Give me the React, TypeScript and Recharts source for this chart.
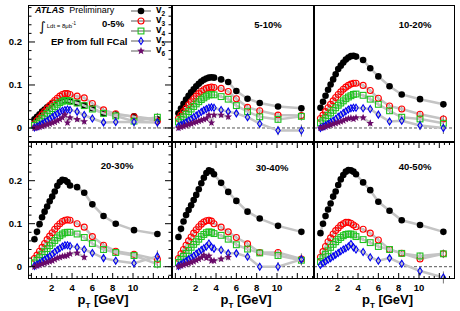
import React from "react"
import { ComposedChart, Scatter, XAxis, YAxis, ReferenceLine, ErrorBar } from "recharts"

// pT bin centres [GeV]
const PT = [0.3, 0.55, 0.8, 1.05, 1.3, 1.55, 1.8, 2.05, 2.3, 2.55, 2.8, 3.05, 3.3, 3.55, 3.8, 4.5, 5.2, 6.0, 7.1, 8.3, 10.1, 12.4]
const HARMONICS = ["2", "3", "4", "5", "6"]
const CENTRALITIES = ["0-5%", "5-10%", "10-20%", "20-30%", "30-40%", "40-50%"]
const X_TICKS = [0, 0.5, 1, 1.5, 2, 2.5, 3, 3.5, 4, 4.5, 5, 5.5, 6, 6.5, 7, 7.5, 8, 8.5, 9, 9.5, 10, 10.5, 11, 11.5, 12, 12.5, 13, 13.5]
const X_LABELS = [2, 4, 6, 8, 10]
const Y_TICKS = [-0.02, 0, 0.02, 0.04, 0.06, 0.08, 0.1, 0.12, 0.14, 0.16, 0.18, 0.2, 0.22, 0.24, 0.26, 0.28]
const Y_LABELS = [0, 0.1, 0.2]

// statistical errors
const ERR_V2 = [0, 0, 0, 0, 0, 0, 0, 0, 0, 0, 0, 0, 0, 0, 0, 0.002, 0.002, 0.003, 0.003, 0.004, 0.005, 0.006]
const ERR_V3 = [0, 0, 0, 0, 0, 0, 0, 0, 0, 0, 0, 0, 0, 0, 0, 0.003, 0.003, 0.004, 0.005, 0.006, 0.007, 0.009]
const ERR_V4 = [0, 0, 0, 0, 0, 0, 0, 0, 0, 0, 0, 0, 0, 0, 0, 0.003, 0.004, 0.004, 0.005, 0.007, 0.008, 0.01]
const ERR_V5 = [0, 0, 0, 0, 0, 0, 0, 0, 0, 0, 0, 0, 0, 0, 0, 0.004, 0.005, 0.005, 0.006, 0.008, 0.011, 0.014]
const ERR_V6 = [0, 0, 0, 0, 0, 0, 0, 0, 0, 0, 0, 0, 0, 0, 0, 0.006, 0.007]

// 0-5%
const V2_00_05 = [0.02, 0.026, 0.032, 0.038, 0.043, 0.048, 0.052, 0.056, 0.059, 0.062, 0.064, 0.065, 0.065, 0.064, 0.062, 0.058, 0.053, 0.046, 0.034, 0.031, 0.027, 0.02]
const V3_00_05 = [0.01, 0.017, 0.024, 0.031, 0.038, 0.045, 0.052, 0.058, 0.064, 0.069, 0.074, 0.078, 0.08, 0.08, 0.078, 0.074, 0.07, 0.057, 0.042, 0.033, 0.026, 0.016]
const V4_00_05 = [0.006, 0.011, 0.016, 0.022, 0.028, 0.034, 0.04, 0.045, 0.05, 0.055, 0.059, 0.062, 0.064, 0.064, 0.062, 0.058, 0.052, 0.044, 0.034, 0.028, 0.016, 0.025]
const V5_00_05 = [0.001, 0.003, 0.006, 0.009, 0.013, 0.017, 0.021, 0.025, 0.029, 0.033, 0.037, 0.04, 0.042, 0.043, 0.042, 0.038, 0.03, 0.022, 0.013, 0.014, 0.014, 0.013]
const V6_00_05 = [0.0, 0.001, 0.002, 0.004, 0.006, 0.008, 0.01, 0.012, 0.014, 0.017, 0.02, 0.024, 0.031, 0.012, 0.024, 0.02, 0.015]

// 5-10%
const V2_05_10 = [0.034, 0.045, 0.056, 0.066, 0.075, 0.083, 0.09, 0.097, 0.103, 0.108, 0.112, 0.115, 0.117, 0.118, 0.117, 0.113, 0.107, 0.086, 0.068, 0.058, 0.05, 0.046]
const V3_05_10 = [0.022, 0.03, 0.038, 0.046, 0.054, 0.061, 0.068, 0.074, 0.08, 0.085, 0.089, 0.092, 0.094, 0.095, 0.094, 0.092, 0.085, 0.068, 0.048, 0.04, 0.03, 0.029]
const V4_05_10 = [0.014, 0.02, 0.026, 0.032, 0.038, 0.044, 0.05, 0.056, 0.061, 0.066, 0.07, 0.074, 0.077, 0.078, 0.077, 0.073, 0.067, 0.052, 0.038, 0.026, 0.02, 0.027]
const V5_05_10 = [0.004, 0.007, 0.01, 0.013, 0.017, 0.021, 0.025, 0.029, 0.033, 0.037, 0.041, 0.044, 0.047, 0.048, 0.047, 0.042, 0.038, 0.034, 0.025, 0.01, -0.006, -0.006]
const V6_05_10 = [0.0, 0.002, 0.004, 0.006, 0.008, 0.01, 0.012, 0.014, 0.016, 0.018, 0.02, 0.022, 0.03, 0.012, 0.03, 0.03, 0.026]

// 10-20%
const V2_10_20 = [0.047, 0.061, 0.075, 0.089, 0.101, 0.113, 0.125, 0.137, 0.145, 0.152, 0.159, 0.164, 0.167, 0.168, 0.166, 0.158, 0.139, 0.12, 0.097, 0.078, 0.067, 0.055]
const V3_10_20 = [0.022, 0.03, 0.038, 0.047, 0.055, 0.063, 0.071, 0.078, 0.084, 0.09, 0.095, 0.099, 0.102, 0.104, 0.104, 0.099, 0.087, 0.069, 0.051, 0.044, 0.032, 0.021]
const V4_10_20 = [0.012, 0.017, 0.023, 0.029, 0.035, 0.041, 0.047, 0.053, 0.058, 0.063, 0.068, 0.072, 0.075, 0.078, 0.079, 0.076, 0.067, 0.055, 0.04, 0.025, 0.021, 0.011]
const V5_10_20 = [0.0, 0.003, 0.006, 0.009, 0.013, 0.017, 0.021, 0.026, 0.03, 0.035, 0.039, 0.043, 0.046, 0.047, 0.047, 0.046, 0.044, 0.031, 0.015, 0.017, 0.006, 0.0]
const V6_10_20 = [0.0, 0.001, 0.003, 0.005, 0.007, 0.009, 0.011, 0.013, 0.015, 0.017, 0.02, 0.022, 0.023, 0.021, 0.024, 0.024, 0.011]

// 20-30%
const V2_20_30 = [0.064, 0.081, 0.099, 0.115, 0.128, 0.14, 0.152, 0.163, 0.175, 0.188, 0.197, 0.202, 0.201, 0.197, 0.189, 0.185, 0.172, 0.145, 0.118, 0.1, 0.085, 0.076]
const V3_20_30 = [0.019, 0.027, 0.036, 0.045, 0.054, 0.063, 0.071, 0.079, 0.087, 0.094, 0.1, 0.105, 0.108, 0.109, 0.108, 0.1, 0.092, 0.07, 0.05, 0.036, 0.029, 0.017]
const V4_20_30 = [0.009, 0.015, 0.021, 0.028, 0.035, 0.042, 0.049, 0.055, 0.061, 0.067, 0.072, 0.076, 0.079, 0.08, 0.08, 0.076, 0.068, 0.054, 0.04, 0.033, 0.026, 0.006]
const V5_20_30 = [0.002, 0.005, 0.008, 0.012, 0.016, 0.02, 0.024, 0.029, 0.034, 0.039, 0.043, 0.047, 0.05, 0.05, 0.048, 0.045, 0.04, 0.032, 0.02, 0.014, 0.008, 0.024]
const V6_20_30 = [0.0, 0.002, 0.004, 0.006, 0.008, 0.01, 0.012, 0.014, 0.017, 0.02, 0.022, 0.024, 0.025, 0.026, 0.03, 0.032, 0.022]

// 30-40%
const V2_30_40 = [0.069, 0.088, 0.105, 0.12, 0.132, 0.143, 0.155, 0.167, 0.18, 0.194, 0.207, 0.218, 0.224, 0.222, 0.215, 0.195, 0.174, 0.153, 0.128, 0.112, 0.095, 0.081]
const V3_30_40 = [0.019, 0.03, 0.04, 0.05, 0.06, 0.069, 0.078, 0.086, 0.093, 0.099, 0.104, 0.107, 0.108, 0.106, 0.1, 0.092, 0.081, 0.068, 0.053, 0.033, 0.033, 0.018]
const V4_30_40 = [0.01, 0.017, 0.024, 0.031, 0.038, 0.045, 0.052, 0.058, 0.064, 0.07, 0.075, 0.079, 0.081, 0.08, 0.077, 0.073, 0.064, 0.051, 0.041, 0.032, 0.026, 0.015]
const V5_30_40 = [0.002, 0.005, 0.009, 0.013, 0.017, 0.021, 0.025, 0.03, 0.034, 0.039, 0.043, 0.047, 0.054, 0.046, 0.042, 0.039, 0.031, 0.031, 0.023, 0.0, 0.0, 0.017]
const V6_30_40 = [0.0, 0.002, 0.004, 0.006, 0.008, 0.01, 0.012, 0.015, 0.018, 0.021, 0.027, 0.02, 0.025, 0.014, 0.014, 0.018, 0.022]

// 40-50%
const V2_40_50 = [0.078, 0.1, 0.118, 0.133, 0.147, 0.163, 0.175, 0.19, 0.203, 0.213, 0.221, 0.225, 0.224, 0.221, 0.215, 0.196, 0.178, 0.151, 0.13, 0.108, 0.097, 0.081]
const V3_40_50 = [0.022, 0.035, 0.047, 0.058, 0.067, 0.076, 0.084, 0.09, 0.096, 0.1, 0.103, 0.103, 0.101, 0.097, 0.093, 0.087, 0.078, 0.062, 0.04, 0.031, 0.018, 0.03]
const V4_40_50 = [0.012, 0.021, 0.029, 0.037, 0.045, 0.052, 0.058, 0.063, 0.068, 0.072, 0.075, 0.076, 0.076, 0.074, 0.07, 0.063, 0.056, 0.047, 0.04, 0.031, 0.025, 0.03]
const V5_40_50 = [0.004, 0.008, 0.012, 0.016, 0.02, 0.024, 0.028, 0.032, 0.036, 0.04, 0.043, 0.047, 0.053, 0.045, 0.04, 0.034, 0.022, 0.014, 0.02, 0.007, -0.01, -0.025]

const ERRS = [ERR_V2, ERR_V3, ERR_V4, ERR_V5, ERR_V6]
const PANELS = [
  [V2_00_05, V3_00_05, V4_00_05, V5_00_05, V6_00_05],
  [V2_05_10, V3_05_10, V4_05_10, V5_05_10, V6_05_10],
  [V2_10_20, V3_10_20, V4_10_20, V5_10_20, V6_10_20],
  [V2_20_30, V3_20_30, V4_20_30, V5_20_30, V6_20_30],
  [V2_30_40, V3_30_40, V4_30_40, V5_30_40, V6_30_40],
  [V2_40_50, V3_40_50, V4_40_50, V5_40_50, null],
]

// layout (px)
const COLS = [{ left: 28, width: 144 }, { left: 172, width: 142 }, { left: 314, width: 141 }]
const ROWS = [{ top: 5, height: 137, domain: [-0.0326, 0.286] }, { top: 142, height: 137, domain: [-0.0286, 0.29] }]
const PX_PER_GEV = 10.16
const X0_OFFSET = 3.4
const LABEL_POS = [[85, 18], [96, 19], [101, 19], [89, 23], [100, 25], [101, 24]]
const FONT = "'Liberation Sans', Arial, Helvetica, sans-serif"
const BAND = "#c4c4c4"

const COLORS = ["#000000", "#ff0000", "#1fc21f", "#0000f0", "#6a0a6a"]

function Marker({ k, cx, cy }: { k: number; cx: number; cy: number }) {
  if (cx == null || cy == null) return null
  const c = COLORS[k]
  if (k === 0) return <circle cx={cx} cy={cy} r={3.3} fill={c} />
  if (k === 1) return <circle cx={cx} cy={cy} r={3} fill="none" stroke={c} strokeWidth={1.1} />
  if (k === 2) return <rect x={cx - 2.9} y={cy - 2.9} width={5.8} height={5.8} fill="none" stroke={c} strokeWidth={1.1} />
  if (k === 3)
    return <polygon points={`${cx},${cy - 3.5} ${cx + 2.2},${cy} ${cx},${cy + 3.5} ${cx - 2.2},${cy}`} fill="none" stroke={c} strokeWidth={1.1} />
  const pts: string[] = []
  for (let i = 0; i < 10; i++) {
    const r = i % 2 === 0 ? 4 : 1.7
    const a = -Math.PI / 2 + (i * Math.PI) / 5
    pts.push(`${cx + r * Math.cos(a)},${cy + r * Math.sin(a)}`)
  }
  return <polygon points={pts.join(" ")} fill={c} />
}

function XTick(props: any) {
  const { x, y, payload, plotH, showLabel } = props
  const v = payload.value
  const major = Math.abs(v / 2 - Math.round(v / 2)) < 1e-6
  const len = major ? 6 : 3
  return (
    <g>
      <line x1={x} x2={x} y1={y} y2={y - len} stroke="#000" />
      <line x1={x} x2={x} y1={y - plotH} y2={y - plotH + len} stroke="#000" />
      {showLabel && X_LABELS.includes(v) && (
        <text x={x} y={y + 12} textAnchor="middle" fontSize={9.5} fontWeight="bold" fontFamily={FONT} fill="#000">
          {v}
        </text>
      )}
    </g>
  )
}

function YTick(props: any) {
  const { x, y, payload, plotW, showLabel } = props
  const v = payload.value
  const major = Math.abs(v * 10 - Math.round(v * 10)) < 1e-6
  const len = major ? 7 : 3.5
  return (
    <g>
      <line x1={x} x2={x + len} y1={y} y2={y} stroke="#000" />
      <line x1={x + plotW} x2={x + plotW - len} y1={y} y2={y} stroke="#000" />
      {showLabel && Y_LABELS.some((l) => Math.abs(l - v) < 1e-6) && (
        <text x={x - 6} y={y + 3.5} textAnchor="end" fontSize={9.5} fontWeight="bold" fontFamily={FONT} fill="#000">
          {Math.abs(v) < 1e-9 ? "0" : v}
        </text>
      )}
    </g>
  )
}

function Panel({ idx }: { idx: number }) {
  const col = COLS[idx % 3]
  const row = ROWS[Math.floor(idx / 3)]
  const showY = idx % 3 === 0
  const showX = idx >= 3
  const yw = showY ? 28 : 0
  const xh = showX ? 16 : 0
  const xDomain = [-X0_OFFSET / PX_PER_GEV, (col.width - X0_OFFSET) / PX_PER_GEV]
  const vn = PANELS[idx]
  const [lx, ly] = LABEL_POS[idx]
  return (
    <div style={{ position: "absolute", left: col.left - yw, top: row.top }}>
      <ComposedChart width={col.width + yw} height={row.height + xh} margin={{ top: 0, right: 0, bottom: 0, left: 0 }}>
        <XAxis
          type="number"
          dataKey="x"
          domain={xDomain}
          ticks={X_TICKS}
          interval={0}
          allowDataOverflow
          axisLine={false}
          tickLine={false}
          tickSize={0}
          tickMargin={0}
          height={xh}
          tick={(p: any) => <XTick {...p} plotH={row.height} showLabel={showX} />}
        />
        <YAxis
          type="number"
          dataKey="y"
          domain={row.domain}
          ticks={Y_TICKS}
          interval={0}
          allowDataOverflow
          axisLine={false}
          tickLine={false}
          tickSize={0}
          tickMargin={0}
          width={yw}
          tick={(p: any) => <YTick {...p} plotW={col.width} showLabel={showY} />}
        />
        <ReferenceLine y={0} stroke="#555" strokeDasharray="3 2" />
        {vn.map((vals, k) =>
          vals ? (
            <Scatter
              key={k}
              data={vals.map((y, i) => ({ x: PT[i], y, e: ERRS[k][i] }))}
              line={{ stroke: BAND, strokeWidth: 2.5 }}
              lineType="joint"
              shape={(p: any) => <Marker k={k} cx={p.cx} cy={p.cy} />}
              isAnimationActive={false}
            >
              <ErrorBar dataKey="e" direction="y" width={0} stroke="#777" strokeWidth={1} />
            </Scatter>
          ) : null
        )}
      </ComposedChart>
      <div
        style={{
          position: "absolute", left: yw, top: 0, width: col.width, height: row.height,
          border: "1px solid #000", boxSizing: "border-box", pointerEvents: "none",
        }}
      />
      <div
        style={{
          position: "absolute", left: yw + lx, top: ly, transform: "translate(-50%, -50%)",
          fontFamily: FONT, fontWeight: "bold", fontSize: 9.5, whiteSpace: "nowrap",
        }}
      >
        {CENTRALITIES[idx]}
      </div>
    </div>
  )
}

function LegendBox() {
  return (
    <div style={{ position: "absolute", left: 130, top: 6, fontFamily: FONT }}>
      {HARMONICS.map((h, k) => (
        <div key={h} style={{ position: "absolute", left: 0, top: k * 10, height: 10, width: 40, whiteSpace: "nowrap" }}>
          <svg width={22} height={10} style={{ position: "absolute", left: 0, top: 0 }}>
            <line x1={1} x2={21} y1={5} y2={5} stroke="#777" strokeWidth={1.2} />
            <Marker k={k} cx={11} cy={5} />
          </svg>
          <span style={{ position: "absolute", left: 26, top: -2, fontSize: 10, fontWeight: "bold", lineHeight: "12px" }}>
            v<sub style={{ fontSize: 6.5, lineHeight: 0 }}>{h}</sub>
          </span>
        </div>
      ))}
    </div>
  )
}

export default function App() {
  return (
    <div style={{ position: "absolute", left: 0, top: 0, width: 460, height: 311, background: "#fff", overflow: "hidden" }}>
      {CENTRALITIES.map((c, i) => (
        <Panel key={c} idx={i} />
      ))}
      <div style={{ position: "absolute", left: 35, top: 5, fontFamily: FONT, fontSize: 9, whiteSpace: "nowrap" }}>
        <b><i>ATLAS</i></b>
        <span style={{ marginLeft: 5 }}>Preliminary</span>
      </div>
      <div style={{ position: "absolute", left: 39, top: 17, fontFamily: FONT, whiteSpace: "nowrap" }}>
        <span style={{ fontSize: 13, fontFamily: "'DejaVu Sans', sans-serif" }}>∫</span>
        <span style={{ fontSize: 6, position: "relative", top: -3, marginLeft: 1 }}>
          Ldt = 8μb<sup style={{ fontSize: 4.5 }}>-1</sup>
        </span>
      </div>
      <div style={{ position: "absolute", left: 51, top: 36, fontFamily: FONT, fontSize: 9.5, fontWeight: "bold", whiteSpace: "nowrap" }}>
        EP from full FCal
      </div>
      <LegendBox />
      {COLS.map((c, i) => (
        <div
          key={i}
          style={{
            position: "absolute", left: c.left + c.width / 2 + 3, top: 293, transform: "translateX(-50%)",
            fontFamily: FONT, fontSize: 13, fontWeight: "bold", whiteSpace: "nowrap", lineHeight: "14px",
          }}
        >
          p<sub style={{ fontSize: 8, lineHeight: 0 }}>T</sub> [GeV]
        </div>
      ))}
    </div>
  )
}
